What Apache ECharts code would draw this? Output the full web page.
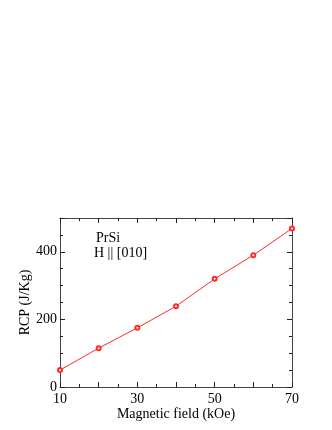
<!DOCTYPE html>
<html lang="en">
<head>
    <meta charset="UTF-8">
    <title>PrSi RCP</title>
    <script src="https://cdn.jsdelivr.net/npm/echarts/dist/echarts.min.js"></script>
    <style>
        body { margin: 0; background: #fff; }
        #chart { width: 332px; height: 430px; }
    </style>
</head>
<body>
    <div id="chart"></div>
    <script>
        // values
        var fields = [10, 20, 30, 40, 50, 60, 70];
        var rcp = [50, 115, 175, 239, 320, 390, 469];
        var xTickLabels = [10, 30, 50, 70];
        var yTickLabels = [0, 200, 400];

        var font = '"Liberation Serif", "DejaVu Serif", serif';
        var axisColor = '#444';

        var points = fields.map(function (f, i) { return [f, rcp[i]]; });

        function xAxisBase(pos, showLabel) {
            return {
                type: 'value',
                position: pos,
                min: 10,
                max: 70,
                interval: 10,
                axisLine: { show: true, onZero: false, lineStyle: { color: axisColor, width: 1 } },
                axisTick: { show: true, inside: true, length: 5, lineStyle: { color: '#222', width: 1 } },
                minorTick: { show: true, splitNumber: 2, length: 3, lineStyle: { color: '#222', width: 1 } },
                splitLine: { show: false },
                axisLabel: {
                    show: showLabel,
                    color: '#000',
                    fontFamily: font,
                    fontSize: 14,
                    margin: 5,
                    formatter: function (v) {
                        return xTickLabels.indexOf(v) >= 0 ? String(v) : '';
                    }
                }
            };
        }

        function yAxisBase(pos, showLabel) {
            return {
                type: 'value',
                position: pos,
                min: 0,
                max: 500,
                interval: 200,
                axisLine: { show: true, onZero: false, lineStyle: { color: axisColor, width: 1 } },
                axisTick: { show: true, inside: true, length: 5, lineStyle: { color: '#222', width: 1 } },
                minorTick: { show: true, splitNumber: 4, length: 3, lineStyle: { color: '#222', width: 1 } },
                splitLine: { show: false },
                axisLabel: {
                    show: showLabel,
                    color: '#000',
                    fontFamily: font,
                    fontSize: 14,
                    margin: 3,
                    formatter: function (v) {
                        return yTickLabels.indexOf(v) >= 0 ? String(v) : '';
                    }
                }
            };
        }

        var chart = echarts.init(document.getElementById('chart'));

        var xMain = xAxisBase('bottom', true);
        xMain.name = 'Magnetic field (kOe)';
        xMain.nameLocation = 'middle';
        xMain.nameGap = 20;
        xMain.nameMoveOverlap = false;
        xMain.nameTextStyle = { color: '#000', fontFamily: font, fontSize: 14 };

        var yMain = yAxisBase('left', true);
        yMain.name = 'RCP (J/Kg)';
        yMain.nameLocation = 'middle';
        yMain.nameGap = 28;
        yMain.nameMoveOverlap = false;
        yMain.nameTextStyle = { color: '#000', fontFamily: font, fontSize: 14 };

        var xTop = xAxisBase('top', false);
        var yRight = yAxisBase('right', false);

        var options = {
            animation: false,
            backgroundColor: '#fff',
            grid: { left: 60, right: 40, top: 218, bottom: 43 },
            xAxis: [xMain, xTop],
            yAxis: [yMain, yRight],
            graphic: [
                { type: 'text', left: 96, top: 231, style: { text: 'PrSi', fill: '#000', font: '14px ' + font } },
                { type: 'text', left: 94, top: 246, style: { text: 'H || [010]', fill: '#000', font: '14px ' + font } }
            ],
            series: [
                {
                    type: 'line',
                    data: points,
                    symbol: 'emptyCircle',
                    symbolSize: 4,
                    lineStyle: { color: '#ff2a2a', width: 1 },
                    itemStyle: { color: '#ff2a2a', borderWidth: 0.8 }
                },
                // empty series so the top/right axes are drawn with their ticks
                { type: 'line', xAxisIndex: 1, yAxisIndex: 1, data: [], silent: true }
            ]
        };

        chart.setOption(options);
    </script>
</body>
</html>
